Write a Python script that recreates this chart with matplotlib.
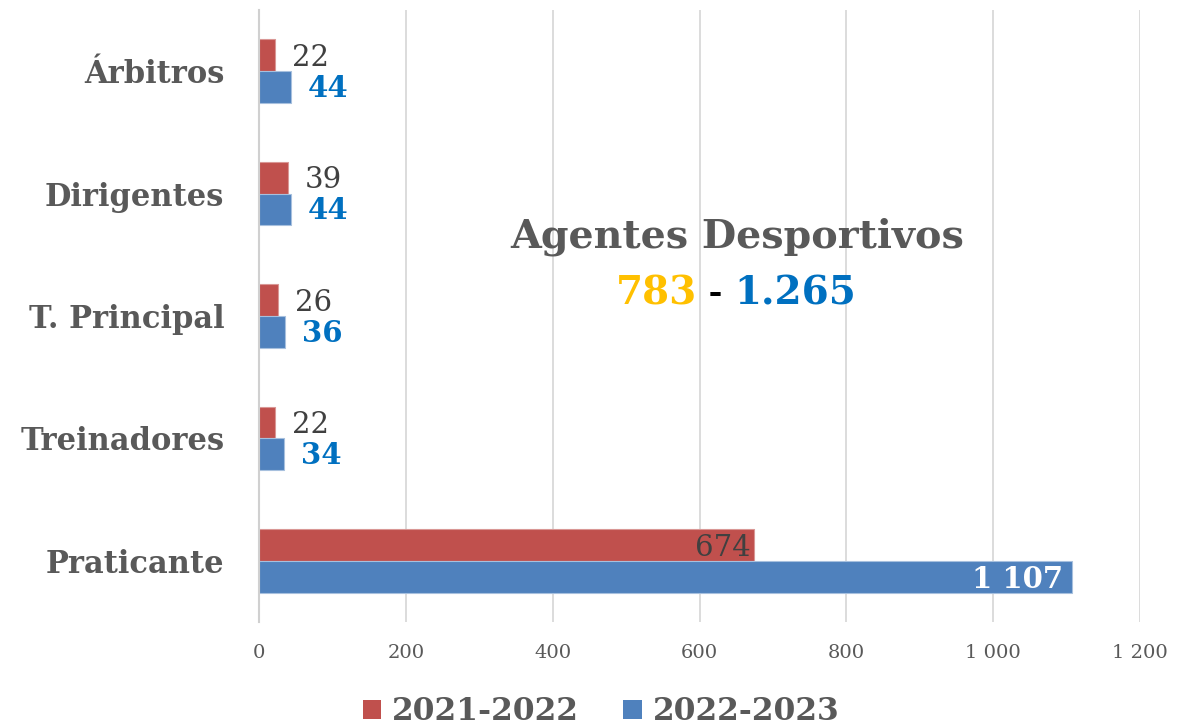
import matplotlib.pyplot as plt
import numpy as np
from matplotlib.patches import Patch
from matplotlib.ticker import FuncFormatter

plt.rcParams["font.family"] = ["DejaVu Serif"]

categories = ["Praticante", "Treinadores", "T. Principal", "Dirigentes", "Árbitros"]
season_2122 = [674, 22, 26, 39, 22]
season_2223 = [1107, 34, 36, 44, 44]
series_labels = ["2021-2022", "2022-2023"]
total_2122 = "783"
total_2223 = "1.265"

RED = "#C0504D"
BLUE = "#4F81BD"
GRAY = "#595959"
LABEL_BLUE = "#0070C0"


def fmt_thousands(v, _pos=None):
    return f"{int(v):,}".replace(",", " ")


fig = plt.figure(figsize=(11.78, 7.26), dpi=100)
ax = fig.add_axes([259 / 1178, 1 - 622 / 726, 881 / 1178, 612 / 726])

y = np.arange(len(categories))
h = 0.26
bars_red = ax.barh(y + h / 2, season_2122, height=h, color=RED,
                   edgecolor="#D99795", linewidth=0.8, zorder=3)
bars_blue = ax.barh(y - h / 2, season_2223, height=h, color=BLUE,
                    edgecolor="#A7C0DE", linewidth=0.8, zorder=3)

ax.set_xlim(0, 1200)
ax.set_ylim(-0.5, len(categories) - 0.5)
ax.set_xticks(range(0, 1201, 200))
ax.xaxis.set_major_formatter(FuncFormatter(fmt_thousands))
ax.set_yticks(y)
ax.set_yticklabels(categories, fontsize=22, fontweight="bold", color=GRAY)
ax.tick_params(axis="x", length=0, labelsize=14, labelcolor=GRAY, pad=16)
ax.tick_params(axis="y", length=0, pad=25)
ax.grid(axis="x", color="#D9D9D9", linewidth=1.3, zorder=0)
for side in ["top", "right", "bottom"]:
    ax.spines[side].set_visible(False)
ax.spines["left"].set_color("#D0D0D0")
ax.spines["left"].set_linewidth(1.5)
ax.spines["left"].set_zorder(4)

# data labels
for bar, val in zip(bars_red, season_2122):
    cy = bar.get_y() + bar.get_height() / 2
    if val > 300:
        ax.annotate(fmt_thousands(val), (val, cy), xytext=(-2, -2),
                    textcoords="offset points", ha="right", va="center",
                    fontsize=21, color="#404040", zorder=5)
    else:
        ax.annotate(fmt_thousands(val), (val, cy), xytext=(12, -2),
                    textcoords="offset points", ha="left", va="center",
                    fontsize=21, color="#404040", zorder=5)
for bar, val in zip(bars_blue, season_2223):
    cy = bar.get_y() + bar.get_height() / 2
    if val > 300:
        ax.annotate(fmt_thousands(val), (val, cy), xytext=(-6, -2),
                    textcoords="offset points", ha="right", va="center",
                    fontsize=21, fontweight="bold", color="white", zorder=5)
    else:
        ax.annotate(fmt_thousands(val), (val, cy), xytext=(12, -1),
                    textcoords="offset points", ha="left", va="center",
                    fontsize=21, fontweight="bold", color=LABEL_BLUE, zorder=5)

# centre note
ax.text(0.5426, 0.629, "Agentes Desportivos", transform=ax.transAxes,
        ha="center", va="center", fontsize=28.5, fontweight="bold", color=GRAY)
dash = ax.text(0.5187, 0.537, " - ", transform=ax.transAxes, ha="center",
               va="center", fontsize=24, fontweight="bold", color="black")
ax.annotate(total_2122, xy=(0, 0.5), xycoords=dash, ha="right", va="center",
            fontsize=28, fontweight="bold", color="#FFC000")
ax.annotate(total_2223, xy=(1, 0.5), xycoords=dash, ha="left", va="center",
            fontsize=28, fontweight="bold", color=LABEL_BLUE)

handles = [Patch(facecolor=RED, label=series_labels[0]),
           Patch(facecolor=BLUE, label=series_labels[1])]
fig.legend(handles=handles, loc="center", bbox_to_anchor=(601 / 1178, 1 - 712 / 726),
           ncol=2, frameon=False, handlelength=0.6, handleheight=0.6,
           handletextpad=0.35, columnspacing=1.4,
           prop={"size": 22.5, "weight": "bold"}, labelcolor=GRAY)

fig.savefig("out.png", dpi=100)
